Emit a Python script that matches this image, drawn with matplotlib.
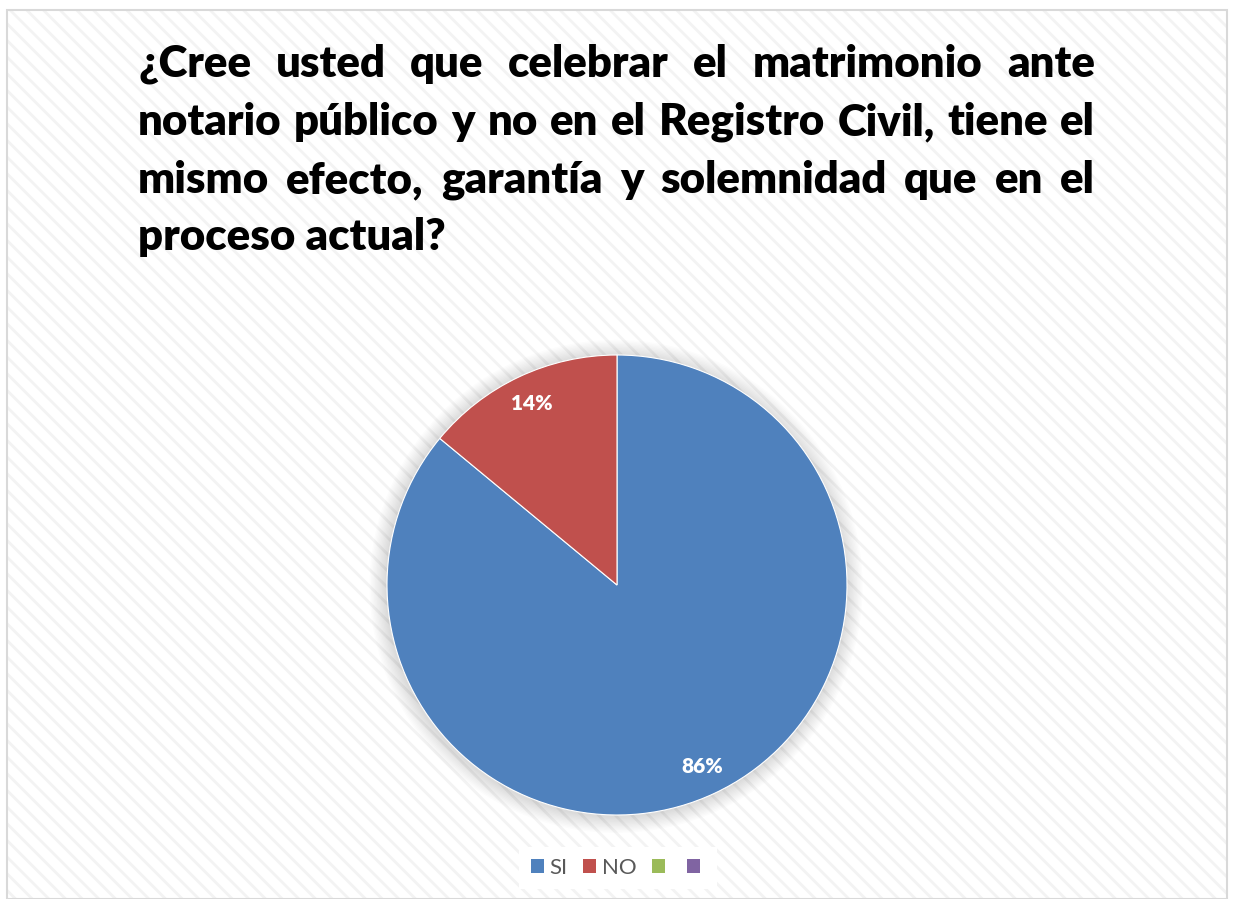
import matplotlib
matplotlib.use("Agg")
import matplotlib.pyplot as plt
from matplotlib.patches import Rectangle, Patch, Circle

# data
labels = ["SI", "NO", "", ""]
values = [86, 14]
colors = ["#4F81BD", "#C0504D", "#9BBB59", "#8064A2"]
title_lines = [
    "¿Cree usted que celebrar el matrimonio ante",
    "notario público y no en el Registro Civil, tiene el",
    "mismo efecto, garantía y solemnidad que en el",
    "proceso actual?",
]

W, H = 1233, 899
plt.rcParams["hatch.linewidth"] = 2.0
plt.rcParams["hatch.color"] = "#f3f3f3"
fig = plt.figure(figsize=(W / 100, H / 100), dpi=100)
fig.patch.set_facecolor("white")

# chart area background with diagonal stripes + border
bg = Rectangle((7 / W, 0), 1220 / W, 889 / H, transform=fig.transFigure,
               facecolor="white", edgecolor="#f3f3f3", hatch="\\\\", lw=0, zorder=-10)
fig.patches.append(bg)
border = Rectangle((7 / W, 0), 1220 / W, 889 / H, transform=fig.transFigure,
                   facecolor="none", edgecolor="#d9d9d9", lw=1.5, zorder=-9)
fig.patches.append(border)

# justified title
title_font = dict(family="Lato", weight="heavy", size=31.5, color="black")
x_left, x_right = 138, 1095
baselines = [77, 135, 193, 250]
renderer = fig.canvas.get_renderer()
for i, line in enumerate(title_lines):
    words = line.split(" ")
    y = 1 - baselines[i] / H
    if i == len(title_lines) - 1:
        fig.text(x_left / W, y, line, va="baseline", ha="left", **title_font)
        continue
    texts = [fig.text(0, y, w, va="baseline", ha="left", **title_font) for w in words]
    widths = [t.get_window_extent(renderer).width for t in texts]
    gap = (x_right - x_left - sum(widths)) / (len(words) - 1)
    x = x_left
    for t, w in zip(texts, widths):
        t.set_x(x / W)
        x += w + gap

# pie
cx, cy, r = 617, 585, 230
ax = fig.add_axes([(cx - r) / W, (H - cy - r) / H, 2 * r / W, 2 * r / H])

# soft shadow around the pie
for k in range(12):
    ax.add_patch(Circle((-0.004, -0.006), 1.0 + 0.006 * (k + 1), facecolor="black",
                        alpha=0.012, lw=0, zorder=0, clip_on=False))

wedges, _, autotexts = ax.pie(values, colors=colors[:2], startangle=90, counterclock=False,
                              radius=1, autopct="%1.0f%%", pctdistance=0.87,
                              wedgeprops=dict(edgecolor="white", linewidth=0.8),
                              textprops=dict(color="white", weight="heavy", size=15,
                                             family="Lato"))
for w in wedges:
    w.set_zorder(2)
for t in autotexts:
    t.set_zorder(3)
ax.set_xlim(-1, 1)
ax.set_ylim(-1, 1)
ax.set_aspect("equal")
ax.axis("off")

# legend
handles = [Patch(facecolor=c, edgecolor="none") for c in colors]
leg = fig.legend(handles, labels, loc="center", bbox_to_anchor=(618 / W, 1 - 868 / H),
                 ncol=4, frameon=True, fancybox=False, handlelength=0.6, handleheight=0.6,
                 handletextpad=0.25, columnspacing=0.7, borderpad=0.5,
                 prop=dict(family="Lato", size=16))
leg.get_frame().set_facecolor("white")
leg.get_frame().set_edgecolor("none")
leg.get_frame().set_alpha(1)
for t in leg.get_texts():
    t.set_color("#595959")

fig.savefig("out.png", dpi=100)
